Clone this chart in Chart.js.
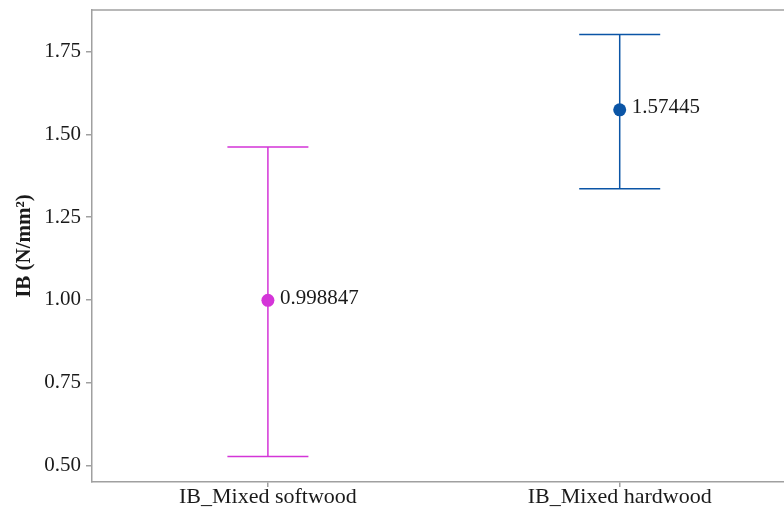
<!DOCTYPE html>
<html>
<head>
<meta charset="utf-8">
<script src="https://cdn.jsdelivr.net/npm/chart.js@4/dist/chart.umd.min.js"></script>
<style>
  html, body { margin: 0; padding: 0; background: #ffffff; }
  #wrap { width: 784px; height: 510px; }
</style>
</head>
<body>
<div id="wrap"><canvas id="c" width="784" height="510"></canvas></div>
<script>
// Groups on the x axis
const categories = ['IB_Mixed softwood', 'IB_Mixed hardwood'];
// Mean internal bond strength (N/mm²) and interval limits per group
const means = [0.998847, 1.57445];
const upper = [1.462, 1.802];
const lower = [0.527, 1.336];
// Y axis tick values and their labels
const yTicks = [0.50, 0.75, 1.00, 1.25, 1.50, 1.75];
const yTickLabels = ['0.50', '0.75', '1.00', '1.25', '1.50', '1.75'];

const colors = ['#D435D8', '#0B55A6'];
const axisColor = '#a0a0a0';
const serif = "'Liberation Serif', 'Times New Roman', serif";

// Interval whiskers with caps, drawn beneath the points
const errorBars = {
  id: 'errorBars',
  beforeDatasetsDraw(chart) {
    const { ctx, scales: { x, y } } = chart;
    ctx.save();
    ctx.lineWidth = 1.5;
    means.forEach((m, i) => {
      const px = x.getPixelForValue(i);
      const top = y.getPixelForValue(upper[i]);
      const bot = y.getPixelForValue(lower[i]);
      const half = 40.5;
      ctx.strokeStyle = colors[i];
      ctx.beginPath();
      ctx.moveTo(px, top); ctx.lineTo(px, bot);
      ctx.moveTo(px - half, top); ctx.lineTo(px + half, top);
      ctx.moveTo(px - half, bot); ctx.lineTo(px + half, bot);
      ctx.stroke();
    });
    ctx.restore();
  },
  afterDatasetsDraw(chart) {
    const { ctx, scales: { x, y } } = chart;
    ctx.save();
    ctx.font = '21px ' + serif;
    ctx.fillStyle = '#1a1a1a';
    ctx.textAlign = 'left';
    ctx.textBaseline = 'middle';
    means.forEach((m, i) => {
      ctx.fillText(String(m), x.getPixelForValue(i) + 12, y.getPixelForValue(m) - 2);
    });
    ctx.restore();
  },
  afterDraw(chart) {
    // top frame line
    const { ctx, chartArea } = chart;
    ctx.save();
    ctx.strokeStyle = axisColor;
    ctx.lineWidth = 1.5;
    ctx.beginPath();
    ctx.moveTo(chartArea.left, chartArea.top);
    ctx.lineTo(chartArea.right, chartArea.top);
    ctx.stroke();
    ctx.restore();
  }
};

new Chart(document.getElementById('c'), {
  type: 'scatter',
  data: {
    datasets: [{
      data: means.map((m, i) => ({ x: i, y: m })),
      pointRadius: 6.5,
      pointHoverRadius: 6.5,
      pointBorderWidth: 0,
      pointBackgroundColor: colors,
      pointBorderColor: colors
    }]
  },
  options: {
    responsive: false,
    devicePixelRatio: 1,
    animation: false,
    layout: { autoPadding: false, padding: { top: 10, right: 0, left: 0, bottom: 0 } },
    plugins: { legend: { display: false }, tooltip: { enabled: false } },
    scales: {
      x: {
        type: 'linear',
        min: -0.5,
        max: 1.467,
        afterBuildTicks(scale) { scale.ticks = categories.map((c, i) => ({ value: i })); },
        afterFit(scale) {
          scale.height = 28;
          scale.paddingLeft = 0; scale.paddingRight = 0;
        },
        ticks: {
          callback: (v) => categories[v],
          color: '#1a1a1a',
          font: { family: serif, size: 22 },
          padding: -3,
          maxRotation: 0,
          autoSkip: false
        },
        grid: { drawOnChartArea: false, drawTicks: true, tickLength: 5, color: axisColor, lineWidth: 1.5 },
        border: { display: true, color: axisColor, width: 1.5 }
      },
      y: {
        min: 0.45,
        max: 1.876,
        afterBuildTicks(scale) { scale.ticks = yTicks.map(v => ({ value: v })); },
        afterFit(scale) {
          scale.width = 92;
          scale.paddingTop = 0; scale.paddingBottom = 0;
        },
        ticks: {
          callback: (v) => yTickLabels[yTicks.indexOf(v)],
          color: '#1a1a1a',
          font: { family: serif, size: 21 },
          padding: 5,
          autoSkip: false
        },
        grid: { drawOnChartArea: false, drawTicks: true, tickLength: 6, color: axisColor, lineWidth: 1.5 },
        border: { display: true, color: axisColor, width: 1.5 },
        title: {
          display: true,
          text: 'IB (N/mm²)',
          color: '#1a1a1a',
          font: { family: serif, size: 21, weight: 'bold' },
          padding: { top: 12, bottom: 0 }
        }
      }
    }
  },
  plugins: [errorBars]
});
</script>
</body>
</html>
